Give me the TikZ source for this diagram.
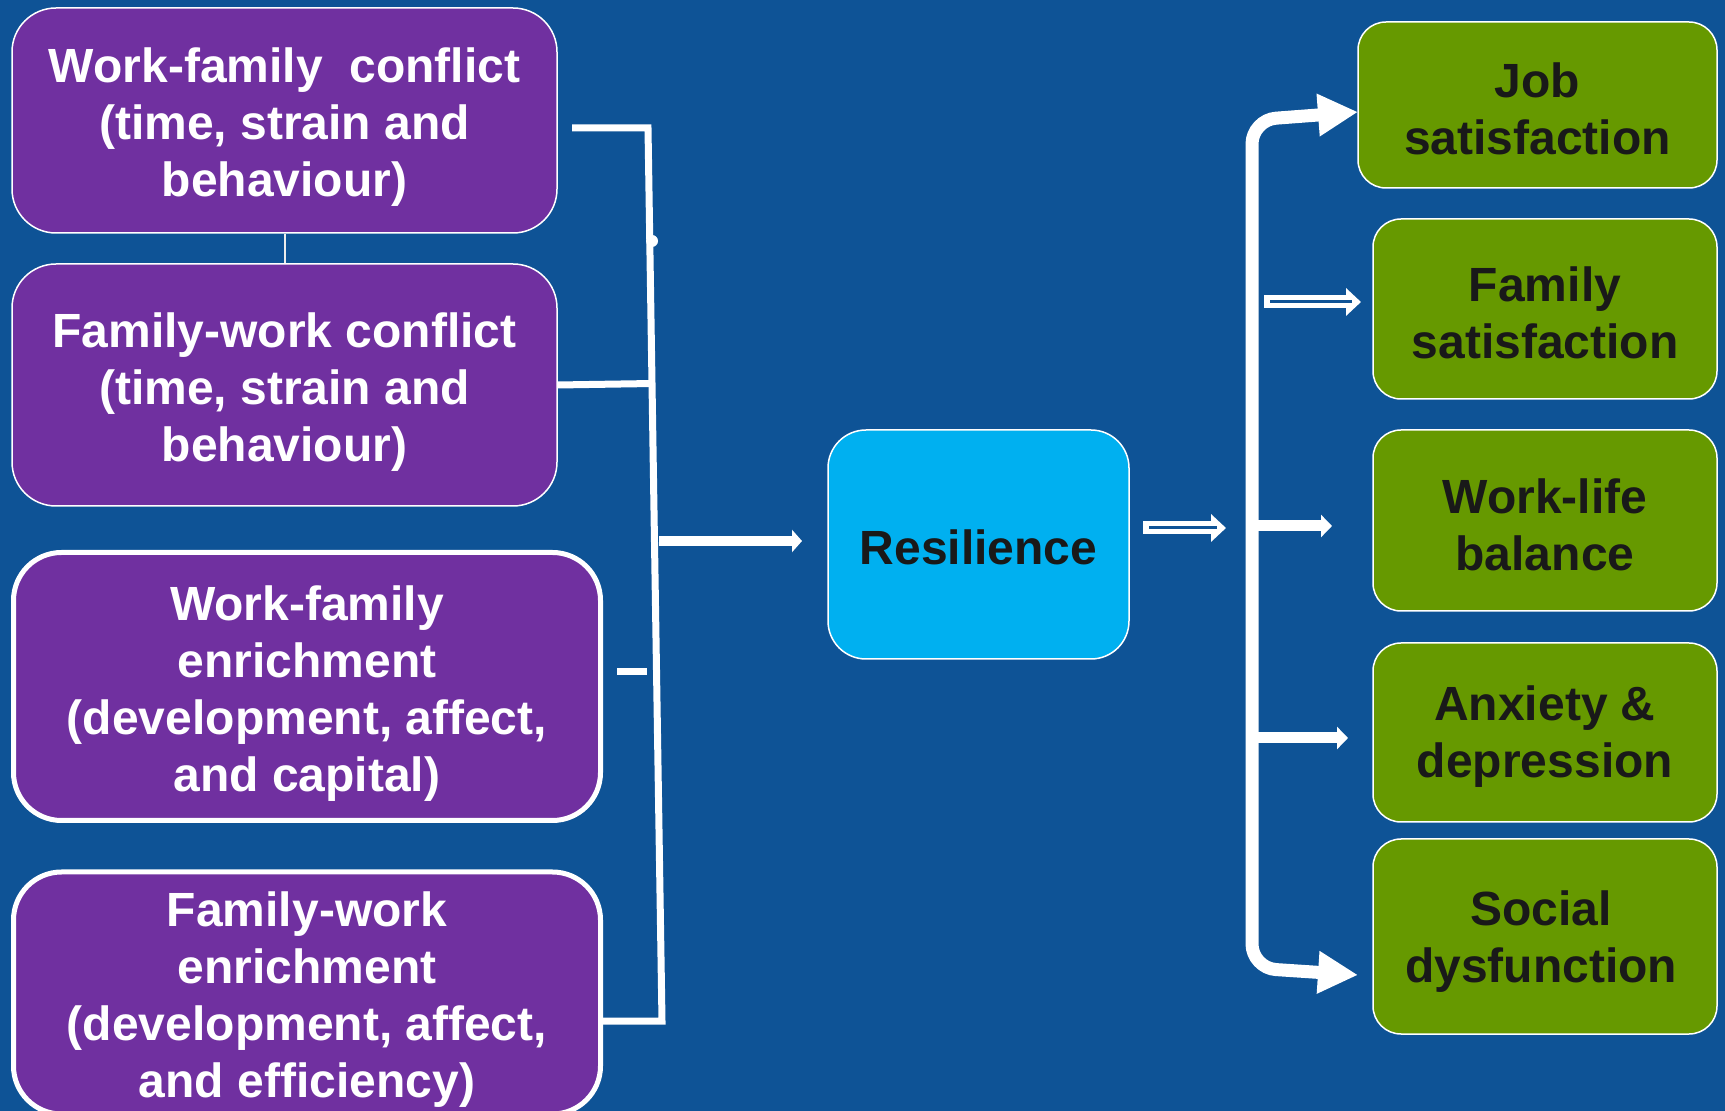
\documentclass[tikz,border=0pt]{standalone}
\usepackage{fontspec}
\setmainfont{Liberation Sans}
\usetikzlibrary{arrows.meta,calc}
\definecolor{bg}{HTML}{0E5396}
\definecolor{purp}{HTML}{7030A0}
\definecolor{cyanbox}{HTML}{00B0F0}
\definecolor{greenbox}{HTML}{669900}
\begin{document}
\begin{tikzpicture}[x=0.5pt,y=-0.5pt,
  txt/.style={align=center, inner sep=0pt, font=\fontsize{24pt}{28.5pt}\selectfont\bfseries},
  pbox/.style={draw=white, line width=0.75pt, fill=purp, rounded corners=22pt},
  pboxthick/.style={pbox, line width=2.5pt, rounded corners=24pt},
  gbox/.style={draw=white, line width=0.75pt, fill=greenbox, rounded corners=14pt},
  rbox/.style={draw=white, line width=0.75pt, fill=cyanbox, rounded corners=19pt},
  ptxt/.style={txt, text=white},
  dtxt/.style={txt, text=black!90},
  conn/.style={white, line width=3.5pt},
  dblouter/.style={white, line width=6.5pt, -{Triangle[length=7.5pt,width=13.5pt]}},
  dblinner/.style={bg, line width=1.5pt},
  smallarrow/.style={white, line width=5.5pt, -{Triangle[length=5.5pt,width=11pt]}}
]
\fill[bg] (0,0) rectangle (1725,1111);
\useasboundingbox (0,0) rectangle (1725,1111);
\clip (0,0) rectangle (1725,1111);

% left boxes
\node[pbox, minimum width=272.5pt, minimum height=112.5pt] (wfc) at (284.5,120.5) {};
\node[ptxt] (wfct) at ($(wfc.center)+(0,7)$) {Work-family\ \ conflict\\(time, strain and\\behaviour)};
\node[pbox, minimum width=272.5pt, minimum height=121pt] (fwc) at (284.5,385) {};
\node[ptxt] (fwct) at ($(fwc.center)+(0,7)$) {Family-work conflict\\(time, strain and\\behaviour)};
\node[pboxthick, minimum width=293.5pt, minimum height=134pt] (wfe) at (307,686.5) {};
\node[ptxt] (wfet) at ($(wfe.center)+(0,7)$) {Work-family\\enrichment\\(development, affect,\\and capital)};
\node[pboxthick, minimum width=293.5pt, minimum height=121pt] (fwe) at (307,993) {};
\node[ptxt] (fwet) at ($(fwe.center)+(0,7)$) {Family-work\\enrichment\\(development, affect,\\and efficiency)};

% centre
\node[rbox, minimum width=150.5pt, minimum height=114.5pt] (res) at (978.5,544.5) {};
\node[dtxt] (rest) at ($(res.center)+(0,3)$) {Resilience};

% right boxes
\node[gbox, minimum width=179.5pt, minimum height=83pt] (job) at (1537.5,105) {};
\node[dtxt] (jobt) at ($(job.center)+(0,4)$) {Job\\satisfaction};
\node[gbox, minimum width=172pt, minimum height=90pt] (fam) at (1545,309) {};
\node[dtxt] (famt) at ($(fam.center)+(0,4)$) {Family\\satisfaction};
\node[gbox, minimum width=172pt, minimum height=90.5pt] (wlb) at (1545,520.5) {};
\node[dtxt] (wlbt) at ($(wlb.center)+(0,4)$) {Work-life\\balance};
\node[gbox, minimum width=172pt, minimum height=89.5pt] (anx) at (1545,732.5) {};
\node[dtxt] (anxt) at ($(anx.center)+(0,4)$) {Anxiety \&\\depression};
\node[gbox, minimum width=172pt, minimum height=97.5pt] (soc) at (1545,936.5) {};
\node[dtxt] (soct) at ($(soc.center)+(-4,5)$) {Social\\dysfunction};

% left bracket
\coordinate (b1) at (572,128);
\coordinate (bt) at (648,128);
\coordinate (bb) at (662,1021);
\draw[white!85!gray, line width=1pt] (wfc.south) -- (fwc.north);
\draw[conn, line join=miter] (b1) -- (bt) -- (bb) -- (fwe.east |- bb);
\draw[conn] (fwc.east) -- ($(bt)!(fwc.east)!(bb)$);
\coordinate (d1) at (617,672);
\coordinate (d2) at (647,672);
\draw[conn] (d1) -- (d2);
\fill[white] (652,241) circle (3pt);
\coordinate (a1) at (659,541);
\coordinate (a2) at (802,541);
\draw[white, line width=5pt, -{Triangle[length=5pt,width=11pt]}] (a1) -- (a2);

% resilience double arrow
\coordinate (r1) at (1143,528);
\coordinate (r2) at (1226,528);
\draw[dblouter] (r1) -- (r2);
\draw[dblinner] (1149,528) -- (1217,528);

% right bracket
\coordinate (jt) at (1358,112);
\coordinate (rt) at (1252,120);
\coordinate (rb) at (1252,968);
\coordinate (st) at (1358,975);
\draw[white, line width=6.5pt, rounded corners=12pt,
  {Triangle[length=20pt,width=20pt]}-{Triangle[length=20pt,width=20pt]}]
  (jt) -- (rt) -- (rb) -- (st);

% family double arrow
\coordinate (f1) at (1264,302);
\coordinate (f2) at (1361,302);
\draw[dblouter] (f1) -- (f2);
\draw[dblinner] (1270,302) -- (1352,302);

% work-life and anxiety arrows
\coordinate (w1) at (1252,526);
\coordinate (w2) at (1332,526);
\draw[smallarrow] (w1) -- (w2);
\coordinate (x1) at (1252,738);
\coordinate (x2) at (1348,738);
\draw[smallarrow] (x1) -- (x2);
\end{tikzpicture}
\end{document}
